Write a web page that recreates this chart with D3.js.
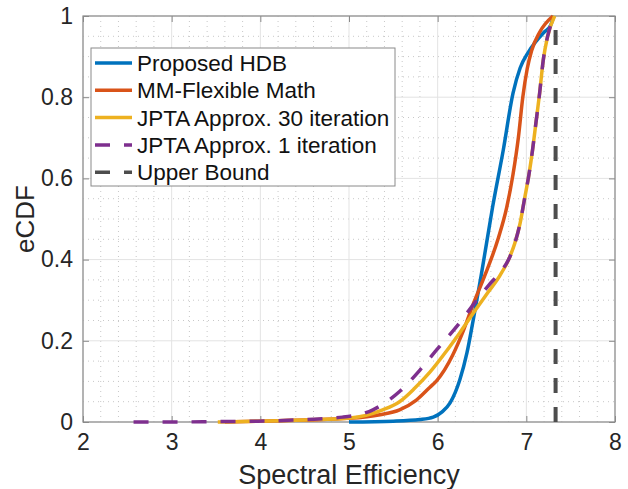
<!DOCTYPE html>
<html>
<head>
<meta charset="utf-8">
<script src="https://cdn.jsdelivr.net/npm/d3@7"></script>
<style>
  body { margin: 0; background: #fff; }
  text { font-family: "Liberation Sans", Arial, Helvetica, sans-serif; fill: #262626; }
</style>
</head>
<body>
<div class="canvas"></div>
<script>
// data
var hdbX  = [5.0, 5.5, 5.8, 5.95, 6.05, 6.14, 6.25, 6.33, 6.40, 6.49, 6.62, 6.74, 6.85, 6.93, 7.02, 7.10, 7.20, 7.27, 7.31];
var hdbY  = [0, 0.002, 0.006, 0.012, 0.025, 0.047, 0.104, 0.17, 0.25, 0.36, 0.53, 0.67, 0.81, 0.872, 0.91, 0.935, 0.96, 0.975, 1.0];

var mmX   = [3.6, 4.0, 4.5, 5.0, 5.35, 5.57, 5.76, 5.91, 5.99, 6.17, 6.29, 6.40, 6.53, 6.68, 6.78, 6.85, 6.91, 6.96, 7.01, 7.06, 7.15, 7.30];
var mmY   = [0, 0.002, 0.005, 0.009, 0.018, 0.03, 0.054, 0.085, 0.102, 0.165, 0.225, 0.29, 0.36, 0.45, 0.53, 0.61, 0.70, 0.80, 0.87, 0.915, 0.96, 1.0];

var j30X  = [3.52, 4.0, 4.5, 5.01, 5.38, 5.57, 5.74, 5.91, 6.10, 6.25, 6.44, 6.57, 6.70, 6.80, 6.87, 6.93, 6.98, 7.03, 7.07, 7.11, 7.15, 7.19, 7.24, 7.32];
var j30Y  = [0, 0.002, 0.005, 0.01, 0.03, 0.05, 0.083, 0.122, 0.175, 0.22, 0.28, 0.32, 0.36, 0.40, 0.44, 0.49, 0.55, 0.61, 0.67, 0.74, 0.81, 0.89, 0.95, 1.0];

var j1X   = [2.57, 3.0, 3.5, 3.97, 4.5, 4.93, 5.27, 5.57, 5.80, 5.99, 6.25, 6.44, 6.58, 6.70, 6.80, 6.87, 6.93, 6.98, 7.03, 7.07, 7.11, 7.15, 7.19, 7.24, 7.32];
var j1Y   = [0, 0, 0.001, 0.002, 0.006, 0.012, 0.03, 0.075, 0.128, 0.178, 0.245, 0.30, 0.338, 0.368, 0.40, 0.44, 0.49, 0.55, 0.61, 0.67, 0.74, 0.81, 0.89, 0.95, 1.0];

var boundX = [7.33, 7.33];
var boundY = [0, 0.98];

var seriesNames = ["Proposed HDB", "MM-Flexible Math", "JPTA Approx. 30 iteration", "JPTA Approx. 1 iteration", "Upper Bound"];
var xTicks = [2, 3, 4, 5, 6, 7, 8];
var yTicks = [0, 0.2, 0.4, 0.6, 0.8, 1];

var width = 628, height = 489;
var plotL = 83, plotR = 615, plotT = 16, plotB = 422;

var svg = d3.select(".canvas").append("svg")
    .attr("width", width)
    .attr("height", height);

var x = d3.scaleLinear().domain([2, 8]).range([plotL, plotR]);
var y = d3.scaleLinear().domain([0, 1]).range([plotB, plotT]);

// minor grid (dotted)
var xMinor = d3.range(2, 8.001, 0.2).filter(function (v) { return Math.abs(v - Math.round(v)) > 1e-6; });
var yMinor = d3.range(0, 1.001, 0.05).filter(function (v) { return Math.abs(v * 5 - Math.round(v * 5)) > 1e-6; });
xMinor.forEach(function (v) {
    svg.append("line")
       .attr("x1", x(v)).attr("x2", x(v))
       .attr("y1", plotT).attr("y2", plotB)
       .attr("stroke", "#c8c8c8").attr("stroke-width", 1)
       .attr("stroke-dasharray", "1,4");
});
yMinor.forEach(function (v) {
    svg.append("line")
       .attr("x1", plotL).attr("x2", plotR)
       .attr("y1", y(v)).attr("y2", y(v))
       .attr("stroke", "#c8c8c8").attr("stroke-width", 1)
       .attr("stroke-dasharray", "1,4");
});

// major grid
xTicks.forEach(function (v) {
    svg.append("line")
       .attr("x1", x(v)).attr("x2", x(v))
       .attr("y1", plotT).attr("y2", plotB)
       .attr("stroke", "#e3e3e3").attr("stroke-width", 1);
});
yTicks.forEach(function (v) {
    svg.append("line")
       .attr("x1", plotL).attr("x2", plotR)
       .attr("y1", y(v)).attr("y2", y(v))
       .attr("stroke", "#e3e3e3").attr("stroke-width", 1);
});

// box + inward ticks
svg.append("rect")
   .attr("x", plotL).attr("y", plotT)
   .attr("width", plotR - plotL).attr("height", plotB - plotT)
   .attr("fill", "none").attr("stroke", "#8a8a8a").attr("stroke-width", 1.2);

var xAxis = svg.append("g").attr("transform", "translate(0," + plotB + ")")
    .call(d3.axisBottom(x).tickValues(xTicks).tickSize(-6).tickPadding(12).tickFormat(d3.format("d")));
var xAxisTop = svg.append("g").attr("transform", "translate(0," + plotT + ")")
    .call(d3.axisTop(x).tickValues(xTicks).tickSize(-6).tickFormat(""));
var yAxis = svg.append("g").attr("transform", "translate(" + plotL + ",0)")
    .call(d3.axisLeft(y).tickValues(yTicks).tickSize(-6).tickPadding(10).tickFormat(function (d) { return d === 0 || d === 1 ? d : d3.format(".1f")(d); }));
var yAxisRight = svg.append("g").attr("transform", "translate(" + plotR + ",0)")
    .call(d3.axisRight(y).tickValues(yTicks).tickSize(-6).tickFormat(""));

[xAxis, xAxisTop, yAxis, yAxisRight].forEach(function (g) {
    g.select(".domain").remove();
    g.selectAll(".tick line").attr("stroke", "#8a8a8a");
    g.selectAll(".tick text")
     .style("font-family", '"Liberation Sans", Arial, sans-serif')
     .style("font-size", "23px")
     .attr("fill", "#262626");
});

// curves
var line = d3.line()
    .x(function (d) { return x(d[0]); })
    .y(function (d) { return y(d[1]); })
    .curve(d3.curveMonotoneX);
var straight = d3.line()
    .x(function (d) { return x(d[0]); })
    .y(function (d) { return y(d[1]); });

function zip(xs, ys) {
    return xs.map(function (v, i) { return [v, ys[i]]; });
}

var series = [
    {name: seriesNames[0], pts: zip(hdbX, hdbY), color: "#0072BD", dash: null},
    {name: seriesNames[1], pts: zip(mmX, mmY), color: "#D95319", dash: null},
    {name: seriesNames[2], pts: zip(j30X, j30Y), color: "#EDB120", dash: null},
    {name: seriesNames[3], pts: zip(j1X, j1Y), color: "#7E2F8E", dash: "15,14"},
    {name: seriesNames[4], pts: zip(boundX, boundY), color: "#4D4D4D", dash: "15,14"}
];

series.forEach(function (s, i) {
    svg.append("path")
       .datum(s.pts)
       .attr("d", i === 4 ? straight : line)
       .attr("fill", "none")
       .attr("stroke", s.color)
       .attr("stroke-width", i === 4 ? 4 : 3.5)
       .attr("stroke-dasharray", s.dash);
});

// legend
var lg = svg.append("g");
lg.append("rect")
  .attr("x", 91).attr("y", 48)
  .attr("width", 304).attr("height", 138)
  .attr("fill", "#fff").attr("stroke", "#8a8a8a").attr("stroke-width", 1);
series.forEach(function (s, i) {
    var cy = 63 + i * 27.3;
    lg.append("line")
      .attr("x1", 95).attr("x2", 132)
      .attr("y1", cy).attr("y2", cy)
      .attr("stroke", s.color).attr("stroke-width", 3.5)
      .attr("stroke-dasharray", s.dash);
    lg.append("text")
      .attr("x", 137).attr("y", cy)
      .attr("dy", "0.36em")
      .style("font-size", "22.5px")
      .style("fill", "#111")
      .text(s.name);
});

// axis labels
svg.append("text")
   .attr("x", (plotL + plotR) / 2).attr("y", 484)
   .attr("text-anchor", "middle")
   .style("font-size", "27px")
   .text("Spectral Efficiency");
svg.append("text")
   .attr("transform", "translate(34," + ((plotT + plotB) / 2) + ") rotate(-90)")
   .attr("text-anchor", "middle")
   .style("font-size", "26px")
   .text("eCDF");
</script>
</body>
</html>
